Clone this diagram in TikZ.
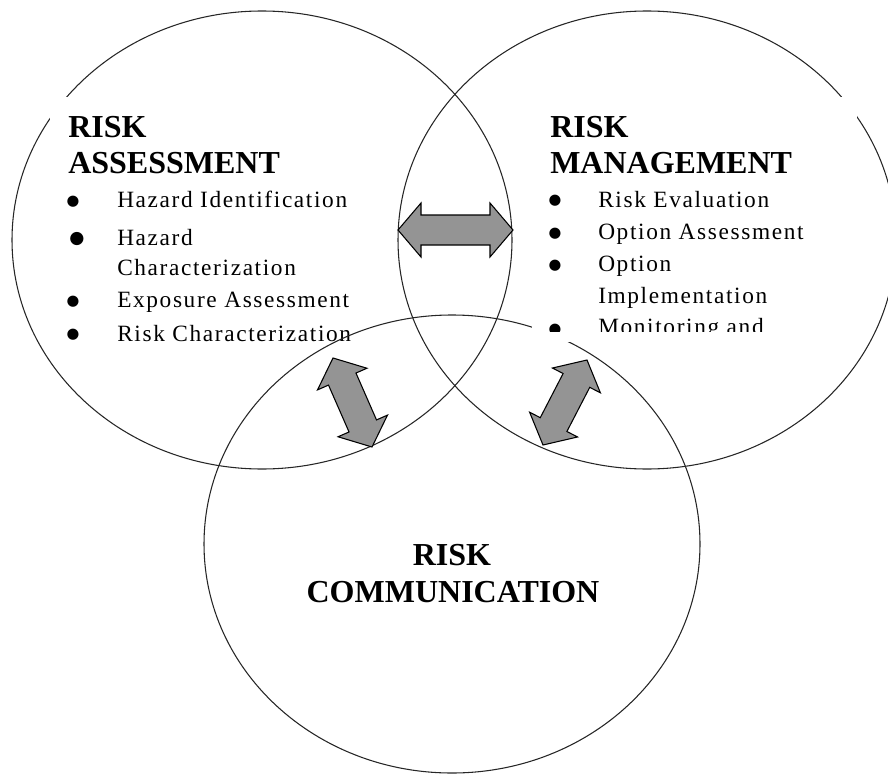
\documentclass[tikz,border=0pt]{standalone}
\usepackage{fontspec}
\setmainfont{Liberation Serif}
\newfontfamily\itemfont[LetterSpace=7]{Liberation Serif}
\newfontfamily\bulfont{DejaVu Sans}
\usetikzlibrary{calc}
\tikzset{
  circ/.style={draw=black!85, line width=0.8pt},
  ttl/.style={font=\fontsize{24}{28}\selectfont\bfseries, anchor=base west, inner sep=0pt},
  ctr/.style={font=\fontsize{24}{28}\selectfont\bfseries, anchor=base, inner sep=0pt},
  itm/.style={font=\fontsize{17.5}{20}\selectfont\itemfont, anchor=base west, inner sep=0pt},
  bul/.style={font=\fontsize{11}{12}\selectfont\bulfont, anchor=base, inner sep=0pt},
  bigbul/.style={font=\fontsize{13}{14}\selectfont\bulfont, anchor=base, inner sep=0pt},
  blk/.style={draw=black, fill=black!42, line width=0.8pt, line join=miter},
}
\newcommand\blockarr[2]{%
  \draw[blk] (#1)
    -- ($(#1)!17.25pt!(#2)!20.25pt!90:(#2)$)
    -- ($(#1)!17.25pt!(#2)!11.25pt!90:(#2)$)
    -- ($(#2)!17.25pt!(#1)!11.25pt!-90:(#1)$)
    -- ($(#2)!17.25pt!(#1)!20.25pt!-90:(#1)$)
    -- (#2)
    -- ($(#2)!17.25pt!(#1)!20.25pt!90:(#1)$)
    -- ($(#2)!17.25pt!(#1)!11.25pt!90:(#1)$)
    -- ($(#1)!17.25pt!(#2)!11.25pt!-90:(#2)$)
    -- ($(#1)!17.25pt!(#2)!20.25pt!-90:(#2)$)
    -- cycle;}
\begin{document}
\begin{tikzpicture}[x=0.75pt,y=-0.75pt]
\useasboundingbox (0,0) rectangle (888,774);
\clip (0,0) rectangle (888,774);
\coordinate (cA) at (262,240);
\coordinate (cM) at (647,240);
\coordinate (cC) at (452,544);
% risk assessment circle
\draw[circ] (cA) ellipse [x radius=250, y radius=229];
\fill[white] (50,97) rectangle (395,356);
\node[ttl] (ta1) at (68,137) {RISK};
\node[ttl] (ta2) at (68,173) {ASSESSMENT};
\node[bul] (ba1) at (73,205) {●};
\node[itm] (ia1) at (117,207) {Hazard Identification};
\node[bigbul] (ba2) at (77,243) {●};
\node[itm] (ia2) at (117,245) {Hazard};
\node[itm] (ia2b) at (117,275) {Characterization};
\node[bul] (ba3) at (73,305) {●};
\node[itm] (ia3) at (117,307) {Exposure Assessment};
\node[bul] (ba4) at (73,338) {●};
\node[itm] (ia4) at (117,341) {Risk Characterization};
% other circles
\draw[circ] (cM) ellipse [x radius=249, y radius=229];
\draw[circ] (cC) ellipse [x radius=248, y radius=229];
% arrows
\coordinate (h1) at (398,230);
\coordinate (h2) at (513,230);
\coordinate (l1) at (333,358);
\coordinate (l2) at (372,447);
\coordinate (r1) at (587,360);
\coordinate (r2) at (543,445);
\blockarr{h1}{h2}
\blockarr{l1}{l2}
\blockarr{r1}{r2}
% risk management text box
\fill[white] (532,97) rectangle (857,342);
\begin{scope}
\clip (532,97) rectangle (857,331);
\node[ttl] (tm1) at (550,137) {RISK};
\node[ttl] (tm2) at (550,173) {MANAGEMENT};
\node[bul] (bm1) at (555,204) {●};
\node[itm] (im1) at (598,207) {Risk Evaluation};
\node[bul] (bm2) at (555,237) {●};
\node[itm] (im2) at (598,239) {Option Assessment};
\node[bul] (bm3) at (555,269) {●};
\node[itm] (im3) at (598,271) {Option};
\node[itm] (im3b) at (598,303) {Implementation};
\node[bul] (bm4) at (555,333) {●};
\node[itm] (im4) at (598,334) {Monitoring and};
\end{scope}
% risk communication
\node[ctr] (tc1) at (452,565) {RISK};
\node[ctr] (tc2) at (453,602) {COMMUNICATION};
\end{tikzpicture}
\end{document}
